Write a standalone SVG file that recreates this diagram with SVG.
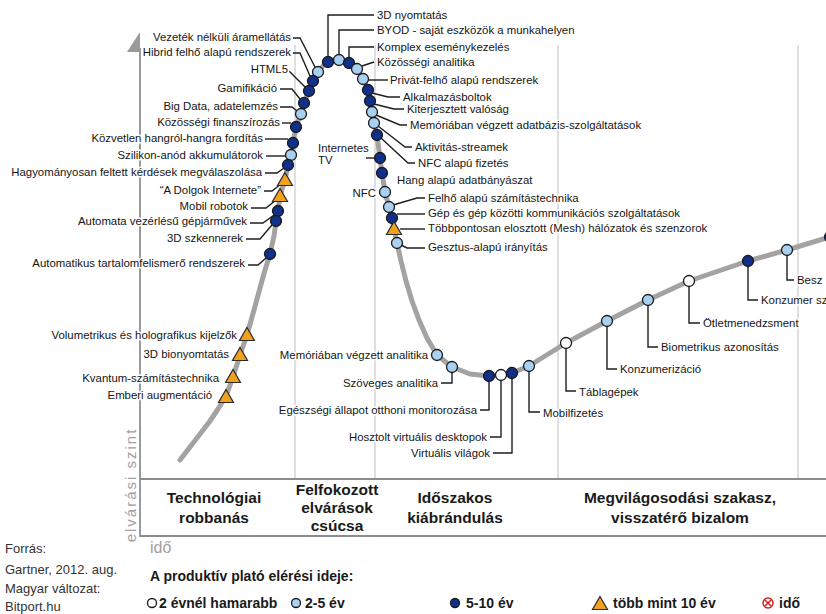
<svg xmlns="http://www.w3.org/2000/svg" width="826" height="614" viewBox="0 0 826 614">
<style>
text{font-family:"Liberation Sans",Arial,sans-serif}
.lb{font-size:11.4px;fill:#151515;stroke:#fff;stroke-width:3px;paint-order:stroke;stroke-linejoin:round}
.e{text-anchor:end}
.ph{font-size:15.5px;font-weight:bold;fill:#1a1a1a;text-anchor:middle}
.lg{font-size:14px;font-weight:bold;fill:#1a1a1a}
.src{font-size:13px;fill:#333}
.ld{fill:none;stroke:#1e1e1e;stroke-width:1.4}
.dk{fill:#10308a;stroke:#1a1a1a;stroke-width:1.3}
.lt{fill:#a8d0f0;stroke:#1a1a1a;stroke-width:1.3}
.wh{fill:#fff;stroke:#1a1a1a;stroke-width:1.3}
.tr{fill:#f2a11f;stroke:#2a2a2a;stroke-width:1.2}
.grid{stroke:#d4d4d4;stroke-width:1.5}
</style>
<defs><path id="tri" d="M0,-7.5 L7.5,5.5 L-7.5,5.5Z"/></defs>
<rect width="826" height="614" fill="#fff"/>

<g id="axes">
<line class="grid" x1="295" y1="45" x2="295" y2="479"/>
<line class="grid" x1="375" y1="45" x2="375" y2="479"/>
<line class="grid" x1="558" y1="45" x2="558" y2="479"/>
<line class="grid" x1="798" y1="45" x2="798" y2="479"/>
<line x1="140" y1="48" x2="140" y2="537" stroke="#9a9a9a" stroke-width="2"/>
<polygon points="127,52 140,32 140,52" fill="#9a9a9a"/>
<path d="M140,479 H826 M140,536 H826" stroke="#8c8c8c" stroke-width="1.8" fill="none"/>
<text x="136" y="485" transform="rotate(-90 136 485)" text-anchor="middle" font-size="15" letter-spacing="2" fill="#a0a0a0">elvárási szint</text>
<text x="150" y="553" font-size="16" fill="#a0a0a0">idő</text>
</g>

<g id="phases">
<text class="ph" x="214" y="503">Technológiai</text>
<text class="ph" x="214" y="523">robbanás</text>
<text class="ph" x="337" y="495">Felfokozott</text>
<text class="ph" x="337" y="513">elvárások</text>
<text class="ph" x="337" y="531">csúcsa</text>
<text class="ph" x="455" y="503">Időszakos</text>
<text class="ph" x="455" y="523">kiábrándulás</text>
<text class="ph" x="680" y="503">Megvilágosodási szakasz,</text>
<text class="ph" x="680" y="523">visszatérő bizalom</text>
</g>

<path id="curve" fill="none" stroke="#a3a3a3" stroke-width="5" stroke-linejoin="round" stroke-linecap="round" d="M180,460 L190,447 L200,434 L210,421 L218,409 L226,396 L233,377 L240,355 L247,335 L254,310 L260,288 L265,270 L270,254 L274,236 L276,221 L278,211 L280,196 L285,180 L288,165 L291,155 L293,143 L296,127 L301,114 L304,103 L309,91 L313,81 L318,72 L323,66 L328,62 L333,60 L339,59 L344,60 L349,62 L353,65 L357,69 L360,74 L363,79 L366,85 L368,90 L369.5,96 L370,101 L372,112 L374,123 L377,135 L380,158 L382,173 L385,192 L389,207 L392,218 L394,229 L397,243 L401,261 L406,281 L412,301 L419,320 L427,338 L437,355 L452,367 L470,374 L489,376 L501,375 L512,373 L529,366 L566,343 L607,321 L648,300 L689,281 L748,261 L787,250 L830,237"/>

<g id="connectors">
<path class="ld" d="M293,38 H300 L315,67"/>
<path class="ld" d="M293,53 H300 L310,76"/>
<path class="ld" d="M289,71 L305,87"/>
<path class="ld" d="M280,89 H292 L300,99"/>
<path class="ld" d="M280,107 H292 L297,111"/>
<path class="ld" d="M282,123 H291"/>
<path class="ld" d="M265,139 H288"/>
<path class="ld" d="M266,156 H286"/>
<path class="ld" d="M265,173 H277 L284,168"/>
<path class="ld" d="M264,191 H272 L281,184"/>
<path class="ld" d="M251,208 H266 L276,200"/>
<path class="ld" d="M250,223 H263 L274,215"/>
<path class="ld" d="M246,239 H260 L272,225"/>
<path class="ld" d="M248,265 H258 L266,258"/>
<path class="ld" d="M374,15 H328 V57"/>
<path class="ld" d="M374,30 H339 V55"/>
<path class="ld" d="M374,47 H349 V58"/>
<path class="ld" d="M374,62 L362,66"/>
<path class="ld" d="M388,80 H368"/>
<path class="ld" d="M372,93 L388,97 H400"/>
<path class="ld" d="M374,104 L394,109 H404"/>
<path class="ld" d="M376,115 L400,125 H407"/>
<path class="ld" d="M378,126 L405,147 H412"/>
<path class="ld" d="M381,138 L408,163 H415"/>
<path class="ld" d="M366,158 H375"/>
<path class="ld" d="M393,205 L417,198 H425"/>
<path class="ld" d="M397,214 H425"/>
<path class="ld" d="M400,229 H425"/>
<path class="ld" d="M401,245 L407,248 H425"/>
<path class="ld" d="M441,383 H452 V373"/>
<path class="ld" d="M480,410 H489 V382"/>
<path class="ld" d="M490,437 H501 V381"/>
<path class="ld" d="M493,453 H512 V379"/>
<path class="ld" d="M529,372 V412 H540"/>
<path class="ld" d="M566,349 V391 H576"/>
<path class="ld" d="M607,327 V369 H617"/>
<path class="ld" d="M648,306 V347 H658"/>
<path class="ld" d="M689,287 V323 H700"/>
<path class="ld" d="M748,267 V300 H758"/>
<path class="ld" d="M787,256 V280 H794"/>
</g>

<g id="n-vezetek"><circle class="lt" cx="318" cy="72" r="5.5"/><text class="lb e" x="291" y="41">Vezeték nélküli áramellátás</text></g>
<g id="n-hibrid"><circle class="dk" cx="313" cy="81" r="5.5"/><text class="lb e" x="291" y="56">Hibrid felhő alapú rendszerek</text></g>
<g id="n-html5"><circle class="dk" cx="309" cy="91" r="5.5"/><text class="lb e" x="288" y="73">HTML5</text></g>
<g id="n-gamifikacio"><circle class="dk" cx="304" cy="103" r="5.5"/><text class="lb e" x="277" y="92">Gamifikáció</text></g>
<g id="n-bigdata"><circle class="lt" cx="301" cy="114" r="5.5"/><text class="lb e" x="278" y="110">Big Data, adatelemzés</text></g>
<g id="n-kozfin"><circle class="dk" cx="296" cy="127" r="5.5"/><text class="lb e" x="280" y="126">Közösségi finanszírozás</text></g>
<g id="n-kozvetlen"><circle class="dk" cx="293" cy="143" r="5.5"/><text class="lb e" x="263" y="142">Közvetlen hangról-hangra fordítás</text></g>
<g id="n-szilikon"><circle class="lt" cx="291" cy="155" r="5.5"/><text class="lb e" x="263" y="159">Szilikon-anód akkumulátorok</text></g>
<g id="n-hagyomanyos"><circle class="dk" cx="288" cy="165" r="5.5"/><text class="lb e" x="262" y="176">Hagyományosan feltett kérdések megválaszolása</text></g>
<g id="n-iot"><use href="#tri" class="tr" x="285" y="180"/><text class="lb e" x="261" y="194">“A Dolgok Internete”</text></g>
<g id="n-mobilrobot"><use href="#tri" class="tr" x="280" y="196"/><text class="lb e" x="248" y="210">Mobil robotok</text></g>
<g id="n-automata"><circle class="dk" cx="278" cy="211" r="5.5"/><text class="lb e" x="247" y="225">Automata vezérlésű gépjárművek</text></g>
<g id="n-szkenner"><circle class="dk" cx="276" cy="221" r="5.5"/><text class="lb e" x="243" y="242">3D szkennerek</text></g>
<g id="n-acr"><circle class="dk" cx="270" cy="254" r="5.5"/><text class="lb e" x="245" y="267">Automatikus tartalomfelismerő rendszerek</text></g>
<g id="n-volumetrikus"><use href="#tri" class="tr" x="247" y="335"/><text class="lb e" x="237" y="339">Volumetrikus és holografikus kijelzők</text></g>
<g id="n-bionyomtatas"><use href="#tri" class="tr" x="240" y="355"/><text class="lb e" x="229" y="358">3D bionyomtatás</text></g>
<g id="n-kvantum"><use href="#tri" class="tr" x="233" y="377"/><text class="lb e" x="219" y="382">Kvantum-számítástechnika</text></g>
<g id="n-emberi"><use href="#tri" class="tr" x="226" y="397"/><text class="lb e" x="212" y="399">Emberi augmentáció</text></g>

<g id="n-3dnyomtatas"><circle class="dk" cx="328" cy="62" r="5.5"/><text class="lb" x="377" y="19">3D nyomtatás</text></g>
<g id="n-byod"><circle class="lt" cx="339" cy="60" r="5.5"/><text class="lb" x="377" y="34">BYOD - saját eszközök a munkahelyen</text></g>
<g id="n-komplex"><circle class="dk" cx="349" cy="63" r="5.5"/><text class="lb" x="377" y="51">Komplex eseménykezelés</text></g>
<g id="n-kozanal"><circle class="lt" cx="357" cy="69" r="5.5"/><text class="lb" x="377" y="66">Közösségi analitika</text></g>
<g id="n-privat"><circle class="lt" cx="363" cy="79" r="5.5"/><text class="lb" x="390" y="84">Privát-felhő alapú rendszerek</text></g>
<g id="n-appstore"><circle class="dk" cx="368" cy="90" r="5.5"/><text class="lb" x="403" y="101">Alkalmazásboltok</text></g>
<g id="n-ar"><circle class="dk" cx="370" cy="101" r="5.5"/><text class="lb" x="407" y="113">Kiterjesztett valóság</text></g>
<g id="n-imdb"><circle class="lt" cx="372" cy="112" r="5.5"/><text class="lb" x="410" y="129">Memóriában végzett adatbázis-szolgáltatások</text></g>
<g id="n-aktivitas"><circle class="lt" cx="374" cy="123" r="5.5"/><text class="lb" x="415" y="151">Aktivitás-streamek</text></g>
<g id="n-nfcpay"><circle class="dk" cx="377" cy="135" r="5.5"/><text class="lb" x="418" y="167">NFC alapú fizetés</text></g>
<g id="n-itv"><circle class="dk" cx="380" cy="158" r="5.5"/><text class="lb" x="318" y="152">Internetes</text><text class="lb" x="318" y="164">TV</text></g>
<g id="n-hang"><circle class="dk" cx="382" cy="173" r="5.5"/><text class="lb" x="397" y="184">Hang alapú adatbányászat</text></g>
<g id="n-nfc"><circle class="lt" cx="385" cy="192" r="5.5"/><text class="lb e" x="376" y="197">NFC</text></g>
<g id="n-felho"><circle class="lt" cx="389" cy="207" r="5.5"/><text class="lb" x="428" y="202">Felhő alapú számítástechnika</text></g>
<g id="n-m2m"><circle class="dk" cx="392" cy="218" r="5.5"/><text class="lb" x="428" y="217">Gép és gép közötti kommunikációs szolgáltatások</text></g>
<g id="n-mesh"><use href="#tri" class="tr" x="394" y="229"/><text class="lb" x="428" y="232">Többpontosan elosztott (Mesh) hálózatok és szenzorok</text></g>
<g id="n-gesztus"><circle class="lt" cx="397" cy="243" r="5.5"/><text class="lb" x="428" y="251">Gesztus-alapú irányítás</text></g>

<g id="n-memanal"><circle class="lt" cx="437" cy="355" r="5.5"/><text class="lb e" x="428" y="359">Memóriában végzett analitika</text></g>
<g id="n-szoveges"><circle class="lt" cx="452" cy="367" r="5.5"/><text class="lb e" x="438" y="387">Szöveges analitika</text></g>
<g id="n-egeszseg"><circle class="dk" cx="489" cy="376" r="5.5"/><text class="lb e" x="477" y="414">Egészségi állapot otthoni monitorozása</text></g>
<g id="n-hvd"><circle class="wh" cx="501" cy="375" r="5.5"/><text class="lb e" x="487" y="441">Hosztolt virtuális desktopok</text></g>
<g id="n-vw"><circle class="dk" cx="512" cy="373" r="5.5"/><text class="lb e" x="490" y="457">Virtuális világok</text></g>
<g id="n-mobilfiz"><circle class="lt" cx="529" cy="366" r="5.5"/><text class="lb" x="543" y="417">Mobilfizetés</text></g>
<g id="n-tabla"><circle class="wh" cx="566" cy="343" r="5.5"/><text class="lb" x="579" y="396">Táblagépek</text></g>
<g id="n-konzumerizacio"><circle class="lt" cx="607" cy="321" r="5.5"/><text class="lb" x="620" y="373">Konzumerizáció</text></g>
<g id="n-biometrikus"><circle class="lt" cx="648" cy="300" r="5.5"/><text class="lb" x="661" y="351">Biometrikus azonosítás</text></g>
<g id="n-otlet"><circle class="wh" cx="689" cy="281" r="5.5"/><text class="lb" x="703" y="327">Ötletmenedzsment</text></g>
<g id="n-konzumer"><circle class="dk" cx="748" cy="261" r="5.5"/><text class="lb" x="761" y="304" font-size="10.8">Konzumer sz</text></g>
<g id="n-besz"><circle class="lt" cx="787" cy="250" r="5.5"/><text class="lb" x="797" y="284">Besz</text></g>
<g id="n-edge"><circle class="dk" cx="830" cy="237" r="5.5"/></g>

<g id="legend">
<text class="lg" x="150" y="581" font-size="15">A produktív plató elérési ideje:</text>
<circle class="wh" cx="152" cy="603" r="4.5" stroke-width="1.2"/>
<text class="lg" x="159" y="608">2 évnél hamarabb</text>
<circle class="lt" cx="296" cy="603" r="4.5" stroke-width="1.2"/>
<text class="lg" x="305" y="608">2-5 év</text>
<circle class="dk" cx="455" cy="603" r="4.5" stroke-width="1.2"/>
<text class="lg" x="466" y="608">5-10 év</text>
<use href="#tri" class="tr" x="600" y="604"/>
<text class="lg" x="613" y="608">több mint 10 év</text>
<circle cx="768" cy="603" r="5" fill="none" stroke="#d42020" stroke-width="1.5"/>
<path d="M765,600 L771,606 M771,600 L765,606" stroke="#d42020" stroke-width="1.5"/>
<text class="lg" x="779" y="608">idő</text>
</g>

<g id="source">
<text class="src" x="5" y="553">Forrás:</text>
<text class="src" x="5" y="574">Gartner, 2012. aug.</text>
<text class="src" x="5" y="593">Magyar változat:</text>
<text class="src" x="5" y="611">Bitport.hu</text>
</g>
</svg>
